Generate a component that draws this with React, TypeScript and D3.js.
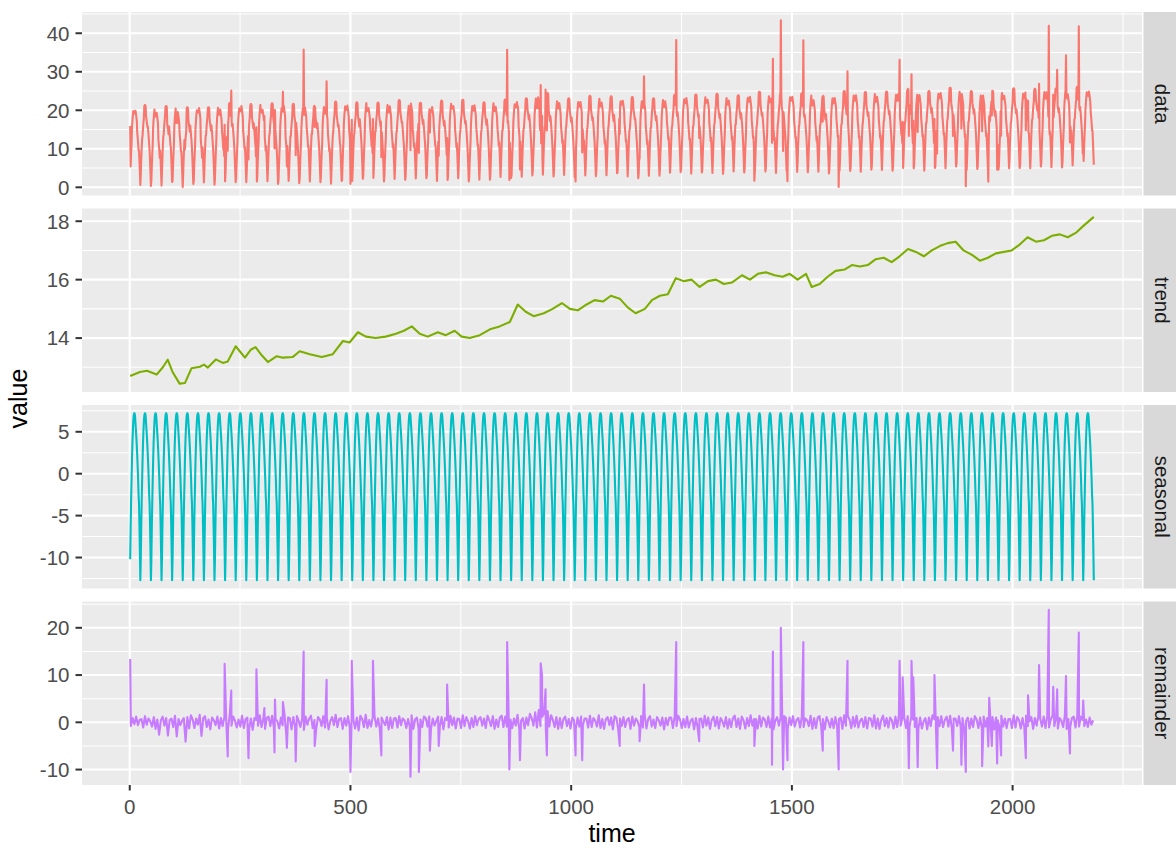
import React, { useEffect, useRef } from 'react';
import * as d3 from 'd3';

// hourly series, 91 days
const N_HOURS = 2184;

const FACETS = ['data', 'trend', 'seasonal', 'remainder'];
const FACET_COLORS = ['#F8766D', '#7CAE00', '#00BFC4', '#C77CFF'];

const X_TICKS = [0, 500, 1000, 1500, 2000];
const Y_TICKS = [
  [0, 10, 20, 30, 40],
  [14, 16, 18],
  [-10, -5, 0, 5],
  [-10, 0, 10, 20],
];

// one day of the (periodic) seasonal component, hours 0..23
const SEASONAL_DAY = [
  -10.2, -6.5, -3.5, -1.0, 1.5, 3.5, 5.0, 6.2, 6.9, 7.2, 7.2, 6.9,
  6.0, 5.2, 4.3, 3.3, 2.1, 0.8, -0.7, -2.5, -3.6, -6.2, -9.3, -12.7,
];

// trend
const TREND_TIME = [
  1, 23, 39, 61, 75, 86, 97, 113, 125, 140, 159, 168, 177, 195, 211, 222, 240, 261, 274, 285,
  299, 313, 333, 347, 369, 385, 408, 435, 460, 483, 498, 517, 535, 557, 580, 603, 621, 639, 657, 675,
  698, 716, 736, 752, 770, 793, 816, 838, 861, 879, 897, 915, 938, 958, 979, 997, 1015, 1035, 1053, 1072,
  1090, 1110, 1128, 1146, 1167, 1183, 1201, 1219, 1237, 1255, 1273, 1291, 1310, 1328, 1346, 1364, 1387, 1405, 1423, 1441,
  1461, 1479, 1495, 1513, 1532, 1545, 1563, 1581, 1599, 1620, 1636, 1654, 1672, 1690, 1708, 1726, 1744, 1763, 1781, 1799,
  1817, 1835, 1853, 1871, 1889, 1908, 1926, 1944, 1962, 1980, 1998, 2016, 2034, 2053, 2071, 2089, 2107, 2125, 2143, 2161,
  2184,
];
const TREND_VALUE = [
  12.70, 12.84, 12.88, 12.75, 13.0, 13.26, 12.84, 12.44, 12.46, 12.97, 13.02, 13.09, 12.99, 13.27, 13.15, 13.2, 13.72, 13.33, 13.6, 13.69,
  13.41, 13.18, 13.38, 13.33, 13.35, 13.55, 13.45, 13.35, 13.45, 13.9, 13.85, 14.2, 14.05, 14.0, 14.05, 14.15, 14.25, 14.4, 14.15, 14.05,
  14.2, 14.1, 14.25, 14.05, 14.0, 14.1, 14.3, 14.4, 14.55, 15.15, 14.9, 14.75, 14.85, 15.0, 15.2, 15.0, 14.95, 15.15, 15.3, 15.25,
  15.45, 15.35, 15.05, 14.85, 15.0, 15.3, 15.45, 15.5, 16.05, 15.95, 16.0, 15.75, 15.95, 16.0, 15.85, 15.9, 16.15, 16.0, 16.2, 16.25,
  16.15, 16.1, 16.2, 16.0, 16.2, 15.75, 15.85, 16.1, 16.3, 16.35, 16.5, 16.45, 16.5, 16.7, 16.75, 16.6, 16.8, 17.05, 16.95, 16.8,
  17.0, 17.15, 17.25, 17.3, 17.0, 16.85, 16.65, 16.75, 16.9, 16.95, 17.0, 17.2, 17.45, 17.3, 17.35, 17.5, 17.55, 17.45, 17.6, 17.85,
  18.15,
];

// remainder, background level per 4-hour block (6 per day)
const REMAINDER_4H = [
  -0.8, 0.9, -0.4, 1.2, -0.6, 0.5,
  0.7, -1.1, 1.3, -0.5, 0.8, 0.2,
  -0.9, 1.1, -1.4, 0.6, -2.6, 0.4,
  1.2, -0.7, 0.9, -2.8, 0.5, 0.8,
  -1.0, 1.4, -3.0, 0.7, -0.6, 0.3,
  0.9, -4.1, 1.1, -1.3, 1.5, 0.6,
  -1.2, 0.8, -0.5, 1.6, -2.9, 0.9,
  1.3, -1.0, 0.6, -1.5, 1.0, 0.4,
  -0.6, 1.2, -1.3, 0.9, -0.8, 1.1,
  0.8, -1.4, 1.5, -0.7, 1.2, 0.3,
  -1.1, 0.6, -0.9, 1.4, -1.2, 0.7,
  1.0, -1.3, 0.8, -1.6, 0.9, 0.5,
  -0.7, 1.5, -1.0, 0.7, -1.4, 0.9,
  1.2, -0.8, 1.4, -1.1, 0.6, 0.2,
  -1.3, 1.0, -0.6, 1.8, -2.5, 1.0,
  0.9, -1.5, 1.1, -0.9, 1.3, 0.4,
  -1.0, 0.7, -1.6, 1.2, -0.5, 0.8,
  1.4, -1.2, 0.5, -1.4, 1.1, 0.6,
  -0.8, 1.3, -1.1, 0.9, -1.5, 0.3,
  1.1, -0.6, 1.6, -1.0, 0.7, 0.9,
  -1.4, 0.9, -0.7, 1.3, -1.1, 0.5,
  0.6, -1.3, 1.0, -1.7, 1.4, 0.7,
  -1.0, 1.6, -1.2, 0.5, -0.9, 1.1,
  1.3, -0.9, 0.8, -1.4, 1.0, 0.2,
  -0.6, 1.1, -1.5, 1.0, -1.2, 0.8,
  0.9, -1.1, 1.3, -0.6, 0.8, 0.4,
  -1.2, 0.7, -0.9, 1.5, -1.4, 0.6,
  1.0, -1.4, 0.6, -1.0, 1.2, 0.9,
  -0.9, 1.2, -1.3, 0.8, -0.7, 0.3,
  1.2, -0.8, 1.1, -1.5, 0.9, 0.5,
  -1.1, 1.4, -0.6, 1.0, -1.3, 0.8,
  0.7, -1.2, 1.5, -0.8, 1.1, 0.2,
  -1.3, 0.9, -1.0, 1.3, -0.6, 0.7,
  1.1, -0.7, 0.8, -1.2, 1.4, 0.4,
  -0.8, 1.3, -1.4, 0.6, -1.0, 1.0,
  1.4, -1.0, 1.2, -0.9, 0.7, 0.6,
  -1.2, 0.8, -0.7, 1.6, -1.5, 0.3,
  0.9, -1.3, 1.0, -0.6, 1.8, 0.9,
  -0.7, 2.1, -1.1, 2.6, -0.8, 1.2,
  1.9, -1.2, 2.4, -0.9, 1.5, 0.5,
  -1.0, 1.1, -1.4, 0.9, -1.2, 0.7,
  1.2, -0.8, 0.7, -1.3, 1.0, 0.4,
  -1.3, 1.0, -0.9, 1.2, -0.7, 0.8,
  0.8, -1.1, 1.4, -1.0, 0.9, 0.3,
  -0.9, 1.5, -1.2, 0.7, -1.4, 0.6,
  1.1, -0.6, 1.0, -1.5, 1.3, 0.9,
  -1.4, 0.8, -0.8, 1.1, -1.0, 0.5,
  0.9, -1.4, 1.2, -0.7, 0.8, 0.2,
  -1.0, 1.3, -1.1, 1.5, -1.3, 0.7,
  1.3, -0.9, 0.6, -1.2, 1.1, 0.4,
  -0.7, 1.0, -1.5, 0.9, -0.6, 1.0,
  1.0, -1.2, 1.3, -0.8, 1.4, 0.6,
  -1.2, 0.7, -1.0, 1.2, -1.1, 0.3,
  0.8, -1.5, 0.9, -1.1, 0.7, 0.8,
  -1.1, 1.4, -0.7, 1.0, -1.4, 0.5,
  1.2, -0.8, 1.1, -1.3, 0.9, 0.2,
  -0.9, 1.1, -1.3, 0.7, -1.0, 0.9,
  1.4, -1.0, 0.8, -1.4, 1.2, 0.4,
  -1.3, 0.9, -0.8, 1.5, -0.7, 0.7,
  0.7, -1.3, 1.4, -0.9, 1.0, 0.6,
  -1.0, 1.2, -1.1, 0.8, -1.5, 0.3,
  1.1, -0.7, 1.0, -1.2, 1.3, 0.9,
  -1.4, 1.0, -0.6, 1.3, -0.9, 0.5,
  0.9, -1.1, 1.2, -1.0, 0.8, 0.4,
  -0.8, 1.4, -1.4, 0.9, -1.2, 1.0,
  1.3, -0.9, 0.7, -1.5, 1.1, 0.2,
  -1.1, 0.8, -1.2, 1.1, -0.8, 0.7,
  1.0, -1.4, 1.5, -0.7, 1.4, 0.6,
  -1.2, 1.1, -0.9, 1.4, -1.1, 0.3,
  0.8, -1.0, 1.1, -1.3, 0.9, 0.8,
  -0.9, 1.5, -1.3, 0.8, -1.4, 0.5,
  1.4, -0.8, 0.9, -1.1, 1.0, 0.4,
  -1.3, 1.2, -1.0, 1.6, -0.7, 0.9,
  1.1, -1.2, 1.3, -0.9, 1.2, 0.6,
  -1.0, 0.9, -1.4, 1.0, -1.3, 0.2,
  0.9, -1.5, 1.0, -0.8, 1.5, 0.7,
  -1.4, 1.1, -0.8, 1.3, -1.0, 0.5,
  1.2, -0.9, 1.4, -1.4, 0.8, 0.8,
  -0.8, 1.3, -1.1, 0.9, -1.5, 0.3,
  1.0, -1.3, 0.8, -1.0, 1.3, 0.6,
  -1.2, 1.0, -1.3, 1.2, -0.9, 0.9,
  1.3, -0.7, 1.1, -1.5, 1.0, 0.4,
  -1.1, 1.4, -0.9, 0.8, -1.2, 0.7,
  0.7, -1.2, 1.5, -1.1, 1.1, 0.5,
  -1.3, 0.9, -1.0, 1.4, -0.8, 0.2,
  1.1, -1.4, 0.9, -0.7, 1.4, 0.8,
  -0.9, 1.2, -1.2, 1.3, -1.1, 0.6,
  1.4, -0.8, 1.0, -1.3, 0.9, 0.3,
  -1.0, 1.5, -1.4, 0.7, -1.0, 0.9,
  1.2, -1.1, 1.3, -0.9, 1.2, 0.5,
  -0.8, 0.6, -1.0, 1.0, -0.5, 0.4,
];

// single-hour outliers in the remainder
const SPIKE_TIME = [
  1, 215, 222, 230, 269, 287, 305, 328, 329, 347, 356, 376, 394, 419, 446, 500, 503, 551, 570, 636,
  655, 680, 700, 719, 855, 860, 884, 931, 934, 942, 945, 1010, 1025, 1110, 1155, 1165, 1238, 1290, 1415, 1455,
  1457, 1475, 1480, 1490, 1526, 1570, 1606, 1626, 1744, 1751, 1765, 1771, 1775, 1785, 1823, 1829, 1865, 1884, 1894, 1931,
  1945, 1947, 1953, 1965, 1974, 2030, 2035, 2060, 2082, 2092, 2101, 2121, 2130, 2150, 2160,
];
const SPIKE_VALUE = [
  13.4, 12.4, -7.2, 6.7, -7.6, 11.2, 3.0, -6.4, 4.8, 4.3, -5.4, -8.3, 15.0, -5.0, 9.0, -10.5, 13.0, 13.0, -7.0, -11.5,
  -10.5, -6.0, -5.0, 8.0, 17.0, -10.0, -8.0, 12.5, 10.0, 7.0, -7.0, -7.0, -8.0, -5.0, -4.0, 8.0, 17.0, -4.0, -5.0, -9.0,
  15.0, 20.0, -10.0, -8.0, 17.0, -6.0, -10.0, 13.0, 13.0, 9.5, -9.7, 13.0, 9.5, -9.5, 10.0, -9.7, -6.0, -9.0, -10.5, -9.3,
  -5.1, 5.2, -5.0, -8.7, -7.0, -7.6, 5.7, 12.1, 23.8, 7.5, 7.0, 9.8, -6.6, 19.0, 4.6,
];

export default function App() {
  const ref = useRef<SVGSVGElement>(null);

  useEffect(() => {
    const W = 1176, H = 848;
    const left = 82, right = 1142;
    const top0 = 12, panelH = 183.5, gap = 13;

    const svg = d3.select(ref.current);
    svg.selectAll('*').remove();
    svg.attr('width', W).attr('height', H).style('font-family', '"Liberation Sans", Arial, sans-serif');

    // build the series (data = trend + seasonal + remainder)
    const hours = d3.range(1, N_HOURS + 1);
    const spikes = new Map(SPIKE_TIME.map((t, i) => [t, SPIKE_VALUE[i]]));
    const remAt = (t: number) => (spikes.has(t) ? spikes.get(t)! : REMAINDER_4H[Math.floor((t - 1) / 4)]);
    const trendAt = (t: number) => TREND_VALUE[Math.max(0, d3.bisectRight(TREND_TIME, t) - 1)];
    const seasAt = (t: number) => SEASONAL_DAY[(t - 1) % 24];

    const dataPts = hours.map(t => [t, trendAt(t) + seasAt(t) + remAt(t)]);
    const trendPts = TREND_TIME.map((t, i) => [t, TREND_VALUE[i]]);
    const seasPts = hours.map(t => [t, seasAt(t)]);
    const remPts = REMAINDER_4H.map((v, i) => [4 * i + 2.5, v])
      .concat(SPIKE_TIME.map((t, i) => [t, SPIKE_VALUE[i]]))
      .sort((a, b) => a[0] - b[0]);
    const series = [dataPts, trendPts, seasPts, remPts];

    const expand = (ext: [number, number]) => {
      const r = ext[1] - ext[0];
      return [ext[0] - 0.05 * r, ext[1] + 0.05 * r];
    };

    const x = d3.scaleLinear().domain(expand([1, N_HOURS])).range([left, right]);
    const xMinor = X_TICKS.map(v => v - 250).concat([X_TICKS[X_TICKS.length - 1] + 250])
      .filter(v => v > x.domain()[0] && v < x.domain()[1]);

    FACETS.forEach((name, i) => {
      const top = top0 + i * (panelH + gap);
      const pts = series[i];
      const y = d3.scaleLinear()
        .domain(expand(d3.extent(pts, d => d[1]) as [number, number]))
        .range([top + panelH, top]);

      const majors = Y_TICKS[i];
      const step = majors[1] - majors[0];
      const minors = majors.map(v => v - step / 2).concat([majors[majors.length - 1] + step / 2])
        .filter(v => v > y.domain()[0] && v < y.domain()[1]);

      const g = svg.append('g');

      // panel background
      g.append('rect')
        .attr('x', left).attr('y', top)
        .attr('width', right - left).attr('height', panelH)
        .attr('fill', '#EBEBEB');

      // minor grid
      g.selectAll('.hmin').data(minors).enter().append('line')
        .attr('x1', left).attr('x2', right)
        .attr('y1', d => y(d)).attr('y2', d => y(d))
        .attr('stroke', '#fff').attr('stroke-width', 1.05);
      g.selectAll('.vmin').data(xMinor).enter().append('line')
        .attr('y1', top).attr('y2', top + panelH)
        .attr('x1', d => x(d)).attr('x2', d => x(d))
        .attr('stroke', '#fff').attr('stroke-width', 1.05);

      // major grid
      g.selectAll('.hmaj').data(majors).enter().append('line')
        .attr('x1', left).attr('x2', right)
        .attr('y1', d => y(d)).attr('y2', d => y(d))
        .attr('stroke', '#fff').attr('stroke-width', 2.1);
      g.selectAll('.vmaj').data(X_TICKS).enter().append('line')
        .attr('y1', top).attr('y2', top + panelH)
        .attr('x1', d => x(d)).attr('x2', d => x(d))
        .attr('stroke', '#fff').attr('stroke-width', 2.1);

      // series line
      const line = d3.line<number[]>().x(d => x(d[0])).y(d => y(d[1]));
      g.append('path')
        .attr('d', line(pts))
        .attr('fill', 'none')
        .attr('stroke', FACET_COLORS[i])
        .attr('stroke-width', 2.1)
        .attr('stroke-linejoin', 'round');

      // y ticks + labels
      g.selectAll('.ytick').data(majors).enter().append('line')
        .attr('x1', 75.5).attr('x2', left)
        .attr('y1', d => y(d)).attr('y2', d => y(d))
        .attr('stroke', '#333333').attr('stroke-width', 2);
      g.selectAll('.ylab').data(majors).enter().append('text')
        .attr('x', 69.5).attr('y', d => y(d))
        .attr('dy', '0.36em')
        .attr('text-anchor', 'end')
        .attr('font-size', 20.5)
        .attr('fill', '#4D4D4D')
        .text(d => String(d));

      // strip
      g.append('rect')
        .attr('x', 1143.5).attr('y', top)
        .attr('width', 40).attr('height', panelH)
        .attr('fill', '#D9D9D9');
      g.append('text')
        .attr('transform', `translate(1154.5,${top + panelH / 2}) rotate(90)`)
        .attr('text-anchor', 'middle')
        .attr('font-size', 20.5)
        .attr('fill', '#1A1A1A')
        .text(name);
    });

    // x axis
    const bottom = top0 + 3 * (panelH + gap) + panelH;
    svg.selectAll('.xtick').data(X_TICKS).enter().append('line')
      .attr('x1', d => x(d)).attr('x2', d => x(d))
      .attr('y1', bottom).attr('y2', bottom + 5.5)
      .attr('stroke', '#333333').attr('stroke-width', 2);
    svg.selectAll('.xlab').data(X_TICKS).enter().append('text')
      .attr('x', d => x(d)).attr('y', bottom + 29)
      .attr('text-anchor', 'middle')
      .attr('font-size', 20.5)
      .attr('fill', '#4D4D4D')
      .text(d => String(d));

    // axis titles
    svg.append('text')
      .attr('x', (left + right) / 2).attr('y', 842)
      .attr('text-anchor', 'middle')
      .attr('font-size', 25)
      .attr('fill', '#000')
      .text('time');
    svg.append('text')
      .attr('transform', `translate(26.7,${(top0 + bottom) / 2}) rotate(-90)`)
      .attr('text-anchor', 'middle')
      .attr('font-size', 25)
      .attr('fill', '#000')
      .text('value');
  }, []);

  return <svg ref={ref} style={{ position: 'absolute', left: 0, top: 0, display: 'block' }} />;
}
